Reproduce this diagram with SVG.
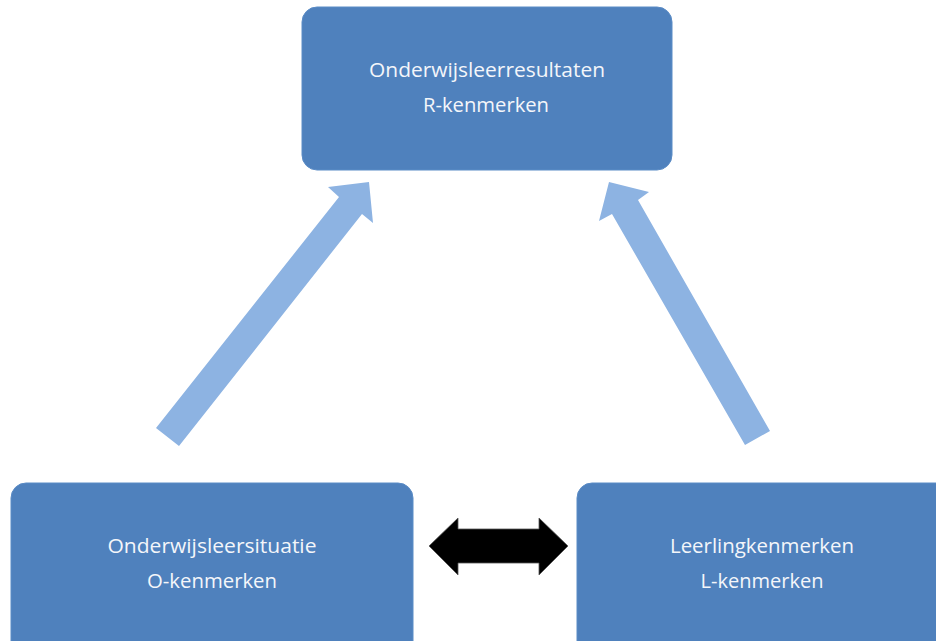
<svg xmlns="http://www.w3.org/2000/svg" width="936" height="641" viewBox="0 0 936 641">
<style>
.box{fill:#4f81bd;stroke:#5b8cc6;stroke-width:1}
.lbl{font-family:"Open Sans","Liberation Sans",sans-serif;font-size:20px;fill:#f4f6fa;text-anchor:middle}
.up{fill:#8db3e2}
.dbl{fill:#000;stroke:#555;stroke-width:0.8}
</style>
<rect width="936" height="641" fill="#fff"/>
<g id="connectors">
<polygon class="up" points="156,428 179,446 362,214 373,223 369,182 328,187 339,197"/>
<polygon class="up" points="770,431 745,445 612,214 599,221 609,182 649,192 638,200"/>
<polygon class="dbl" points="429,546 458,518 458,529 539,529 539,518 568,546 539,575 539,563 458,563 458,575"/>
</g>
<g id="node-r">
<rect class="box" x="302" y="7" width="370" height="163" rx="15"/>
<text class="lbl" x="487" y="77" textLength="236" lengthAdjust="spacingAndGlyphs">Onderwijsleerresultaten</text>
<text class="lbl" x="486" y="112" textLength="126" lengthAdjust="spacingAndGlyphs">R-kenmerken</text>
</g>
<g id="node-o">
<rect class="box" x="11" y="483" width="402" height="180" rx="15"/>
<text class="lbl" x="212" y="553" textLength="209" lengthAdjust="spacingAndGlyphs">Onderwijsleersituatie</text>
<text class="lbl" x="212" y="588" textLength="130" lengthAdjust="spacingAndGlyphs">O-kenmerken</text>
</g>
<g id="node-l">
<rect class="box" x="577" y="483" width="380" height="180" rx="15"/>
<text class="lbl" x="762" y="553" textLength="184" lengthAdjust="spacingAndGlyphs">Leerlingkenmerken</text>
<text class="lbl" x="762" y="588" textLength="123" lengthAdjust="spacingAndGlyphs">L-kenmerken</text>
</g>
</svg>
